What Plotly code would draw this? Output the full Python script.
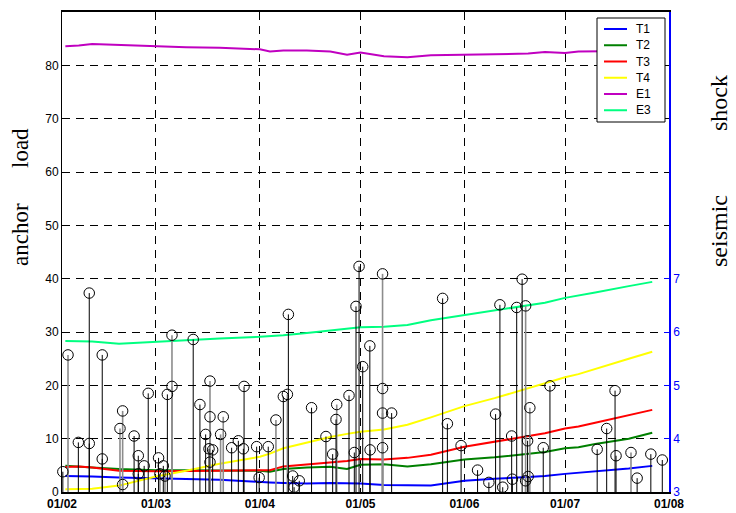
import plotly.graph_objects as go

# ---------------- data ----------------
line_dates = ["2003-02-02", "2003-02-06", "2003-02-10", "2003-02-18", "2003-03-01", "2003-03-10",
              "2003-03-20", "2003-04-01", "2003-04-04", "2003-04-08", "2003-04-15", "2003-04-22",
              "2003-04-27", "2003-05-01", "2003-05-08", "2003-05-15", "2003-05-22", "2003-06-01",
              "2003-06-10", "2003-06-20", "2003-06-25", "2003-07-01", "2003-07-05", "2003-07-10",
              "2003-07-20", "2003-07-27"]

T1 = [3.0, 3.0, 2.9, 2.7, 2.5, 2.45, 2.3, 1.8, 1.8, 1.7, 1.6, 1.7, 1.7, 1.6, 1.3, 1.2, 1.2,
      2.1, 2.5, 2.8, 3.0, 3.4, 3.6, 3.9, 4.4, 4.9]
T2 = [4.9, 4.8, 4.6, 4.3, 4.1, 4.1, 4.1, 4.0, 3.8, 4.3, 4.6, 4.75, 4.3, 5.1, 5.2, 4.8, 5.2,
      6.1, 6.5, 7.2, 7.5, 8.2, 8.4, 9.0, 10.0, 11.1]
T3 = [4.7, 4.8, 4.6, 4.0, 3.9, 3.9, 4.0, 4.1, 4.1, 4.8, 5.2, 5.5, 5.8, 6.2, 6.1, 6.4, 7.0,
      8.5, 9.4, 10.5, 11.0, 11.9, 12.3, 13.0, 14.4, 15.4]
T4 = [0.5, 0.5, 0.6, 1.2, 2.9, 4.0, 5.3, 6.6, 7.2, 8.2, 9.3, 10.3, 10.9, 11.3, 11.7, 12.6, 14.0,
      16.1, 17.6, 19.5, 20.4, 21.5, 22.1, 23.1, 25.0, 26.3]
E1 = [83.6, 83.7, 84.0, 83.8, 83.6, 83.4, 83.3, 83.0, 82.6, 82.8, 82.8, 82.6, 82.0, 82.4, 81.7,
      81.5, 81.9, 82.0, 82.1, 82.2, 82.5, 82.3, 82.6, 82.6, 82.7, 82.8]
E3 = [28.3, 28.3, 28.2, 27.8, 28.2, 28.5, 28.8, 29.1, 29.2, 29.4, 29.8, 30.3, 30.6, 30.9, 31.0,
      31.3, 32.2, 33.2, 34.0, 35.0, 35.5, 36.4, 36.8, 37.4, 38.6, 39.4]

series_names = ["T1", "T2", "T3", "T4", "E1", "E3"]
series_values = [T1, T2, T3, T4, E1, E3]
series_colors = ["#0000ff", "#008000", "#ff0000", "#ffff00", "#c000c0", "#00ff80"]

# seismic events (magnitude, right axis)
black_times = ["2003-02-01 06:00", "2003-02-05 21:00", "2003-02-09 03:00", "2003-02-09 03:00",
               "2003-02-13 00:00", "2003-02-13 00:00", "2003-02-22 12:00", "2003-02-23 18:00",
               "2003-02-23 18:00", "2003-02-25 12:00", "2003-02-26 17:00", "2003-03-01 19:00",
               "2003-03-03 05:00", "2003-03-04 10:00", "2003-03-12 03:00", "2003-03-14 03:00",
               "2003-03-15 20:00", "2003-03-16 20:00", "2003-03-17 22:00", "2003-03-23 14:00",
               "2003-03-25 14:00", "2003-03-27 02:00", "2003-03-27 07:00", "2003-03-31 01:00",
               "2003-03-31 19:00", "2003-04-03 12:00", "2003-04-08 00:00", "2003-04-09 12:00",
               "2003-04-10 19:00", "2003-04-11 05:00", "2003-04-12 18:00", "2003-04-16 10:00",
               "2003-04-20 17:00", "2003-04-22 17:00", "2003-04-23 17:00", "2003-04-27 14:00",
               "2003-04-29 04:00", "2003-04-29 16:00", "2003-04-30 14:00", "2003-05-01 16:00",
               "2003-05-03 19:00", "2003-05-03 21:00", "2003-05-10 07:00", "2003-05-25 12:00",
               "2003-05-26 22:00", "2003-05-31 00:00", "2003-06-04 22:00", "2003-06-08 07:00",
               "2003-06-10 07:00", "2003-06-11 14:00", "2003-06-12 10:00", "2003-06-15 02:00",
               "2003-06-15 07:00", "2003-06-16 14:00", "2003-06-18 05:00", "2003-06-19 20:00",
               "2003-06-20 00:00", "2003-06-24 12:00", "2003-06-26 12:00", "2003-07-10 14:00",
               "2003-07-13 10:00", "2003-07-15 22:00", "2003-07-16 05:00", "2003-07-22 12:00",
               "2003-07-26 14:00", "2003-07-30 00:00"]
black_mags = [3.38, 3.93, 6.73, 3.91, 5.57, 3.62, 4.05, 3.68, 3.34, 3.49, 4.85, 3.64,
              3.49, 4.83, 5.86, 4.64, 4.08, 3.81, 3.79, 3.83, 3.96, 3.81, 4.98, 3.85,
              3.27, 3.85, 4.79, 6.33, 3.30, 3.09, 3.21, 4.58, 4.04, 3.71, 4.36, 4.81,
              3.74, 6.48, 7.23, 5.35, 5.74, 3.79, 4.48, 6.63, 4.28, 3.87, 3.41, 3.18,
              4.46, 6.51, 3.09, 4.05, 3.24, 6.46, 6.99, 3.96, 3.29, 3.83, 4.99, 3.80,
              4.19, 4.90, 3.68, 3.26, 3.71, 3.60]

gray_times = ["2003-02-02 19:00", "2003-02-18 07:00", "2003-02-19 02:00", "2003-02-19 02:00",
              "2003-03-02 05:00", "2003-03-03 17:00", "2003-03-05 19:00", "2003-03-05 19:00",
              "2003-03-17 03:00", "2003-03-17 03:00", "2003-03-17 03:00", "2003-03-20 07:00",
              "2003-03-21 02:00", "2003-04-05 19:00", "2003-04-09 05:00", "2003-04-23 22:00",
              "2003-05-07 14:00", "2003-05-07 14:00", "2003-05-07 14:00", "2003-05-07 14:00",
              "2003-06-19 06:00", "2003-06-19 06:00", "2003-06-20 12:00", "2003-07-20 16:00"]
gray_mags = [5.57, 4.19, 4.52, 3.14, 3.34, 3.30, 5.94, 4.98, 5.08, 4.41, 3.56, 4.08,
             4.41, 4.35, 4.83, 4.64, 7.09, 4.94, 4.48, 3.83, 6.49, 3.21, 4.58, 3.74]

x_ticks = ["2003-02-01", "2003-03-01", "2003-04-01", "2003-05-01", "2003-06-01",
           "2003-07-01", "2003-08-01"]
mag_base = 3
# ---------------------------------------

# plot area in page pixels (the page body adds an 8px margin, compensated below)
PL, PR, PT, PB = 62, 669, 12, 492


def px(xp):
    return (xp - PL) / (PR - PL)


def py(yp):
    return (PB - yp) / (PB - PT)


fig = go.Figure()

for name, vals, col in zip(series_names, series_values, series_colors):
    fig.add_trace(go.Scatter(x=line_dates, y=vals, mode="lines", name=name,
                             line=dict(color=col, width=2), yaxis="y", showlegend=False))


def stems(times, mags):
    xs, ys = [], []
    for t, m in zip(times, mags):
        xs += [t, t, None]
        ys += [mag_base, m, None]
    return xs, ys


for times, mags, col, w in [(gray_times, gray_mags, "#8c8c8c", 1.6),
                            (black_times, black_mags, "#000000", 1)]:
    sx, sy = stems(times, mags)
    fig.add_trace(go.Scatter(x=sx, y=sy, mode="lines", yaxis="y2", showlegend=False,
                             line=dict(color=col, width=w), hoverinfo="skip"))

fig.add_trace(go.Scatter(x=black_times + gray_times, y=black_mags + gray_mags, mode="markers",
                         yaxis="y2", showlegend=False, cliponaxis=False,
                         marker=dict(symbol="circle-open", size=10.5, color="black",
                                     line=dict(width=1, color="black"))))

fig.update_layout(
    width=736 - 8, height=513 - 8,
    margin=dict(l=PL - 8, r=736 - PR, t=PT - 8, b=513 - PB, autoexpand=False),
    plot_bgcolor="white", paper_bgcolor="white",
    font=dict(family="Liberation Sans, Arial", size=12, color="black"),
    xaxis=dict(range=["2003-02-01", "2003-08-01"], tickvals=x_ticks, tickformat="%d/%m",
               tickfont=dict(size=12, weight="bold"), showgrid=True, gridcolor="black",
               griddash="8px,6px", gridwidth=1, showline=True, linecolor="black",
               linewidth=1.5, mirror=True, ticks="", zeroline=False, automargin=False),
    yaxis=dict(range=[0, 90], dtick=10, showgrid=True, gridcolor="black", griddash="8px,6px",
               gridwidth=1, showline=True, linecolor="black", linewidth=1, ticks="inside",
               ticklen=5, tickcolor="black", zeroline=False, tickfont=dict(size=12),
               automargin=False),
    yaxis2=dict(range=[3, 12], tickvals=[3, 4, 5, 6, 7], overlaying="y", side="right",
                showgrid=False, showline=True, linecolor="#0000ff", linewidth=1.5,
                ticks="inside", ticklen=5, tickcolor="#0000ff", zeroline=False,
                tickfont=dict(color="#0000ff", size=12), automargin=False),
    showlegend=False,
)

# legend box (built from the series lists)
LX0, LX1, LY0, LY1 = 597, 665, 18, 122
fig.add_shape(type="rect", xref="paper", yref="paper", x0=px(LX0), x1=px(LX1),
              y0=py(LY1), y1=py(LY0), line=dict(color="black", width=1),
              fillcolor="white", layer="above")
for i, (name, col) in enumerate(zip(series_names, series_colors)):
    ry = 29 + 16.25 * i
    fig.add_shape(type="line", xref="paper", yref="paper", x0=px(604), x1=px(627),
                  y0=py(ry), y1=py(ry), line=dict(color=col, width=2), layer="above")
    fig.add_annotation(text=name, xref="paper", yref="paper", x=px(634), y=py(ry),
                       xanchor="left", yanchor="middle", showarrow=False,
                       font=dict(size=12, color="black"))

for txt, xp, yp, fs in [("anchor", 20, 235, 23), ("load", 20, 148, 23),
                        ("seismic", 719, 231, 24), ("shock", 719, 103, 24)]:
    fig.add_annotation(text=txt, xref="paper", yref="paper",
                       x=px(xp), y=py(yp), xanchor="center", yanchor="middle",
                       textangle=-90, showarrow=False, borderpad=0,
                       font=dict(family="Liberation Serif, Times New Roman", size=fs,
                                 color="black"))

fig.write_html("out.html")
